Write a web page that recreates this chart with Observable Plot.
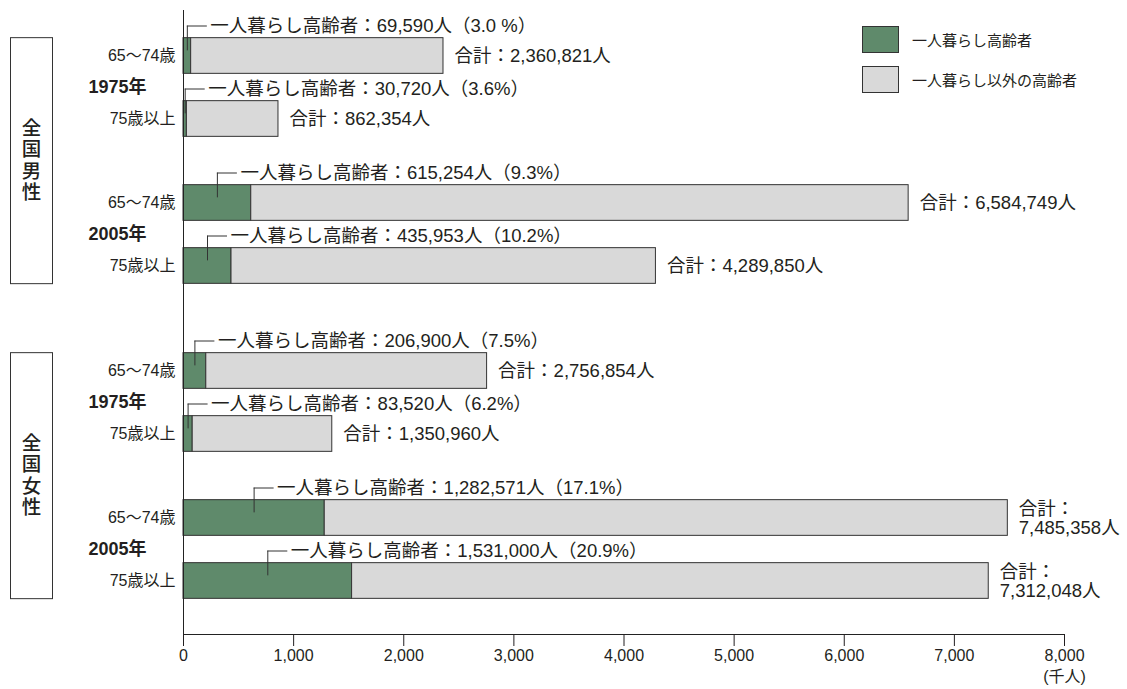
<!DOCTYPE html>
<html>
<head>
<meta charset="utf-8">
<script src="https://cdn.jsdelivr.net/npm/d3@7"></script>
<script src="https://cdn.jsdelivr.net/npm/@observablehq/plot@0.6"></script>
<style>
  body { margin: 0; background: #fff; font-family: "Liberation Sans", "Noto Sans CJK JP", sans-serif; color: #231f20; }
  #wrap { position: relative; width: 1127px; height: 689px; }
  .legend { position: absolute; left: 862px; top: 25px; font-size: 15px; }
  .legend .item { display: flex; align-items: center; height: 28px; margin-bottom: 12px; }
  .legend .sw { width: 37px; height: 27px; box-sizing: border-box; border: 1px solid #333; margin-right: 13px; }
</style>
</head>
<body>
<div id="wrap">
  <div class="legend" id="legend"></div>
</div>
<script>
// Categories
const sexes = ["全国男性", "全国女性"];
const years = ["1975年", "2005年"];
const ages = ["65～74歳", "75歳以上"];
const categories = ["一人暮らし高齢者", "一人暮らし以外の高齢者"];
const colors = ["#5f8a6b", "#d9d9d9"];

// Values in persons, ordered sex → year → age
const singles = [69590, 30720, 615254, 435953, 206900, 83520, 1282571, 1531000];
const totals = [2360821, 862354, 6584749, 4289850, 2756854, 1350960, 7485358, 7312048];
const shares = ["3.0 %", "3.6%", "9.3%", "10.2%", "7.5%", "6.2%", "17.1%", "20.9%"];

// Axis ticks (thousand persons)
const xTicks = [0, 1000, 2000, 3000, 4000, 5000, 6000, 7000, 8000];
const xUnit = "(千人)";

const fmt = d3.format(",");

// One row per sex × year × age
const rows = [];
sexes.forEach((sex, si) => years.forEach((year, yi) => ages.forEach((age, ai) => {
  const i = rows.length;
  rows.push({
    key: `${sex}-${year}-${age}`, sex, year, age, ai,
    single: singles[i], total: totals[i], share: shares[i]
  });
})));

// Band domain: rows separated by blank slots (wider gaps between years and between sexes)
const domain = [];
rows.forEach((r, i) => {
  if (i > 0) {
    const p = rows[i - 1];
    const gap = p.sex !== r.sex ? 4 : p.year !== r.year ? 3 : 2;
    for (let k = 0; k < gap; k++) domain.push(`gap-${i}-${k}`);
  }
  domain.push(r.key);
});

// Stacked segments
const segments = rows.flatMap(r => [
  {key: r.key, cat: categories[0], value: r.single / 1000},
  {key: r.key, cat: categories[1], value: (r.total - r.single) / 1000}
]);

const width = 1127, height = 689;
const marginTop = 10, marginBottom = 55, insetTop = 31, insetBottom = 39;
const bw = (height - marginTop - marginBottom - insetTop - insetBottom) / domain.length;
const barH = 36;
const barInset = -(barH - bw) / 2;
const labelDy = -30;

const annot = r => `一人暮らし高齢者：${fmt(r.single)}人（${r.share}）`;
const totalLabel = r => r.total > 7e6 ? `合計：\n${fmt(r.total)}人` : `合計：${fmt(r.total)}人`;

const chart = Plot.plot({
  width, height,
  marginLeft: 183, marginRight: 63, marginTop, marginBottom,
  style: {fontFamily: '"Liberation Sans", "Noto Sans CJK JP", sans-serif', fontSize: "15px", color: "#231f20", background: "#fff"},
  x: {domain: [0, 8000], axis: null},
  y: {domain, type: "band", padding: 0, insetTop, insetBottom, axis: null},
  color: {domain: categories, range: colors},
  marks: [
    Plot.barX(segments, {x: "value", y: "key", fill: "cat", stroke: "#333", strokeWidth: 1, insetTop: barInset, insetBottom: barInset}),
    // leader lines
    Plot.tickX(rows, {x: r => r.single / 2000, y: "key", stroke: "#333", strokeWidth: 1, insetTop: bw / 2 + labelDy, insetBottom: bw / 2 + 5}),
    Plot.ruleY(rows, {y: "key", x1: r => r.single / 2000, x2: r => r.single / 2000, dy: labelDy, insetRight: -20, stroke: "#333", strokeWidth: 1}),
    Plot.text(rows, {x: r => r.single / 2000, y: "key", dy: labelDy, dx: 23, text: annot, textAnchor: "start", fontSize: 18.5}),
    // totals
    Plot.text(rows, {x: r => r.total / 1000, y: "key", dx: 11, text: totalLabel, textAnchor: "start", lineHeight: 1.05, fontSize: 18.5}),
    // row labels
    Plot.text(rows, {x: 0, y: "key", dx: -8, text: "age", textAnchor: "end", fontSize: 16}),
    Plot.text(rows.filter(r => r.ai === 0), {x: 0, y: "key", dy: bw * 1.5 - 1, dx: -95, text: "year", textAnchor: "start", fontSize: 18, fontWeight: "bold"}),
    // axes
    Plot.ruleX([0], {stroke: "#222", strokeWidth: 1}),
    Plot.frame({anchor: "bottom", stroke: "#222"}),
    Plot.axisX({ticks: xTicks, tickSize: 12, tickFormat: () => "", label: null}),
    Plot.text(xTicks, {x: d => d, frameAnchor: "bottom", dy: 26, text: fmt, fontSize: 16}),
    Plot.text([8000], {x: d => d, frameAnchor: "bottom", dy: 47, text: () => xUnit, fontSize: 16})
  ]
});

document.getElementById("wrap").prepend(chart);

// Boxed vertical sex labels spanning each group's rows
const y = chart.scale("y");
const svg = d3.select(chart);
sexes.forEach(sex => {
  const rs = rows.filter(r => r.sex === sex);
  const top = y.apply(rs[0].key) + bw / 2 - barH / 2;
  const bottom = y.apply(rs[rs.length - 1].key) + bw / 2 + barH / 2;
  const g = svg.append("g");
  g.append("rect").attr("x", 10.5).attr("y", top).attr("width", 42).attr("height", bottom - top)
    .attr("fill", "none").attr("stroke", "#333").attr("stroke-width", 1);
  g.append("text")
    .attr("x", 31.5)
    .attr("y", (top + bottom) / 2)
    .attr("writing-mode", "vertical-rl")
    .style("text-orientation", "upright")
    .attr("text-anchor", "middle")
    .attr("letter-spacing", 2)
    .attr("font-family", '"Noto Sans CJK JP", sans-serif')
    .attr("font-size", 19.5).attr("font-weight", 500)
    .attr("fill", "#231f20")
    .text(sex);
});

// Legend
const legend = d3.select("#legend");
categories.forEach((c, i) => {
  const item = legend.append("div").attr("class", "item");
  item.append("div").attr("class", "sw").style("background", colors[i]);
  item.append("span").text(c);
});
</script>
</body>
</html>
